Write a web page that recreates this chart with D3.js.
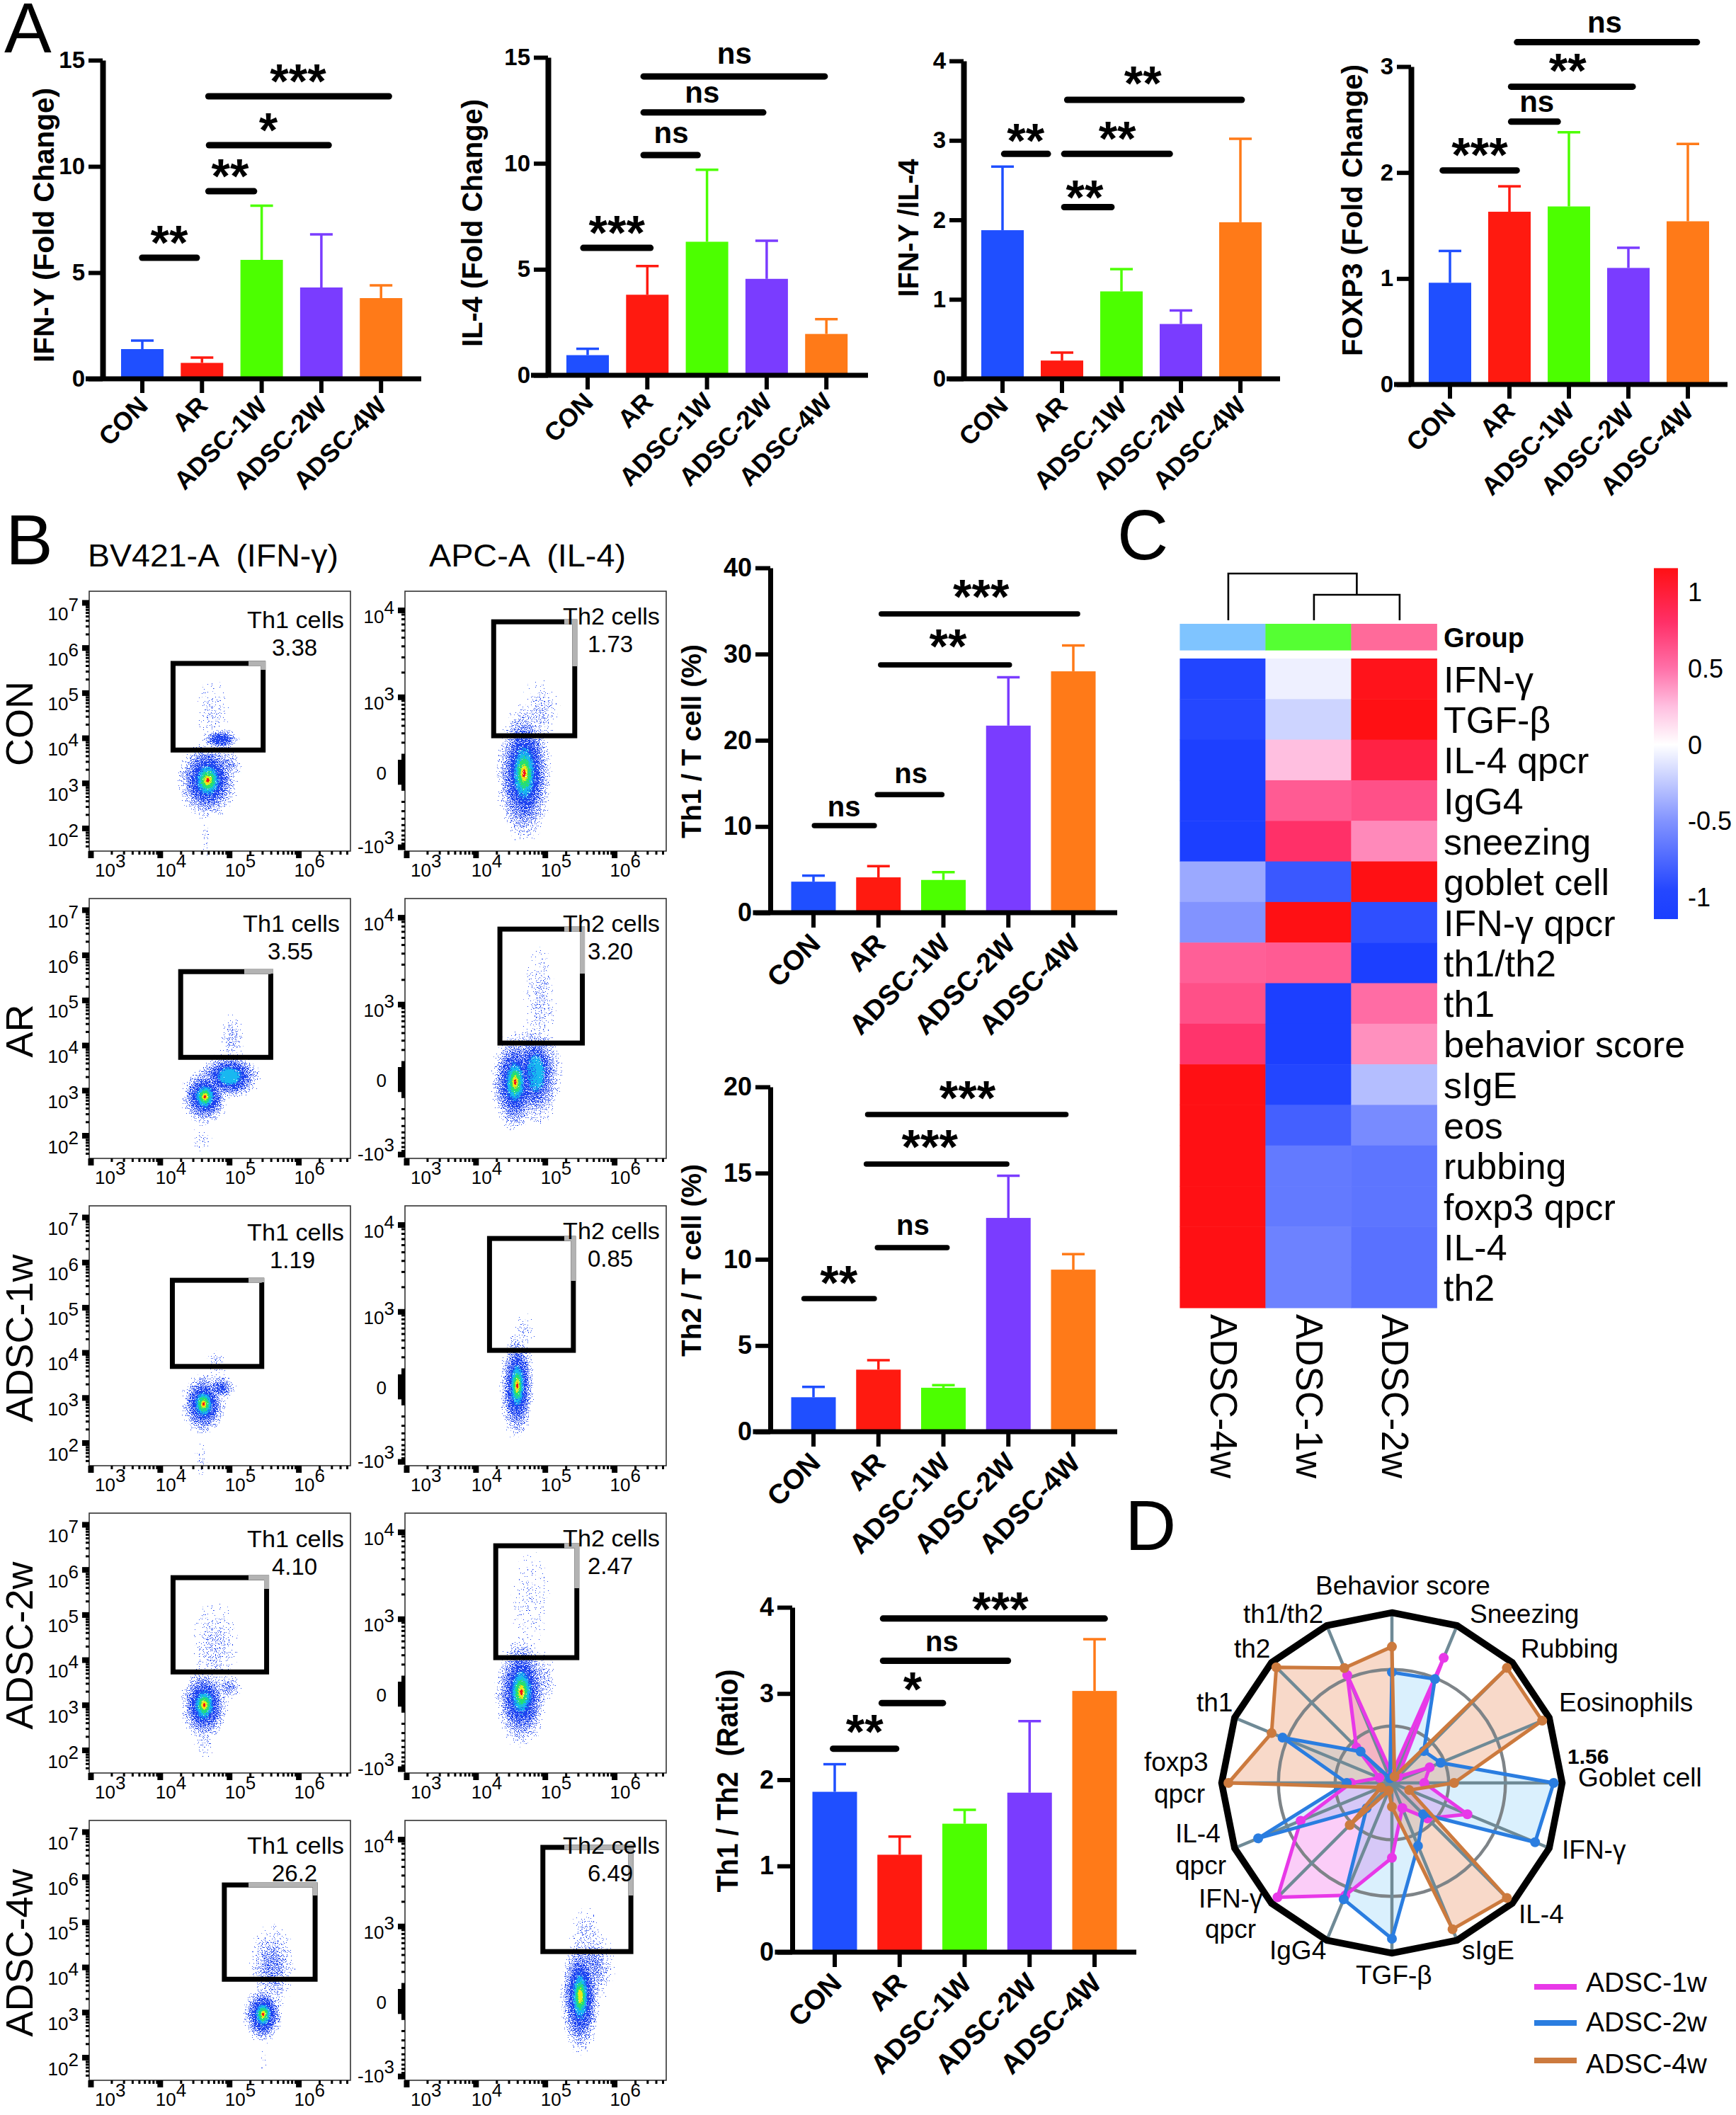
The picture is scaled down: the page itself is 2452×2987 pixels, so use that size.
<!DOCTYPE html>
<html><head><meta charset="utf-8">
<script src="https://cdnjs.cloudflare.com/ajax/libs/d3/7.8.5/d3.min.js"></script>
<style>html,body{margin:0;padding:0;background:#fff}svg{display:block}text{font-family:"Liberation Sans",Arial,sans-serif;white-space:pre}</style>
</head><body><div id="c"></div>
<script>
// ---------- bar-chart data ----------
const groups=["CON","AR","ADSC-1W","ADSC-2W","ADSC-4W"];
const barColors=["#1f4fff","#ff1a10","#4cff00","#7a3cff","#ff7a18"];
const ifnMean=[1.4,0.75,5.6,4.3,3.8],   ifnTop=[1.8,1.0,8.15,6.8,4.4];
const il4Mean=[0.95,3.8,6.3,4.55,1.95], il4Top=[1.25,5.15,9.7,6.35,2.65];
const ratioAMean=[1.87,0.23,1.1,0.69,1.97], ratioATop=[2.67,0.33,1.38,0.86,3.02];
const foxMean=[0.96,1.63,1.68,1.1,1.54], foxTop=[1.26,1.87,2.38,1.29,2.27];
const th1Mean=[3.6,4.1,3.8,21.7,28], th1Top=[4.3,5.4,4.7,27.3,31];
const th2Mean=[2,3.6,2.55,12.4,9.4], th2Top=[2.6,4.15,2.7,14.85,10.3];
const thRatioMean=[1.86,1.13,1.49,1.85,3.03], thRatioTop=[2.18,1.34,1.65,2.68,3.63];
// significance: [from group index, to group index, value, label, label index, label value]
const ifnSig=[[-.05,.96,5.7,"**",.45,6.73],[1.06,1.92,8.83,"**",1.47,9.87],[1.07,3.17,11,"*",2.11,12.03],[1.06,4.18,13.3,"***",2.61,14.33]];
const il4Sig=[[-.12,1.1,6.01,"***",.49,7.05],[.89,1.89,10.39,"ns",1.4,10.96],[.89,2.99,12.4,"ns",1.92,12.86],[.89,4.02,14.1,"ns",2.46,14.7]];
const ratioASig=[[-.02,.81,2.83,"**",.39,3.08],[.99,1.88,2.16,"**",1.38,2.37],[.99,2.86,2.83,"**",1.93,3.11],[1.04,4.07,3.51,"**",2.36,3.8]];
const foxSig=[[-.17,1.17,2.02,"***",.5,2.23],[.98,1.86,2.48,"ns",1.46,2.57],[.98,3.12,2.81,"**",1.98,3.03],[1.08,4.2,3.23,"ns",2.6,3.32]];
const th1Sig=[[-.03,.98,10.1,"ns",.47,11.17],[.94,2.02,13.7,"ns",1.5,15.03],[.99,3.06,28.75,"**",2.07,31.7],[1,4.11,34.66,"***",2.58,37.45]];
const th2Sig=[[-.19,.98,7.72,"**",.39,9.03],[.94,2.1,10.68,"ns",1.53,11.42],[.77,3.02,15.52,"***",1.79,16.92],[.79,3.93,18.4,"***",2.37,19.75]];
const thRatioSig=[[-.07,.99,2.36,"**",.46,2.64],[.68,1.71,2.89,"*",1.2,3.13],[.7,2.71,3.38,"ns",1.65,3.49],[.7,4.2,3.87,"***",2.55,4.06]];

// ---------- flow data ----------
const flowRows=["CON","AR","ADSC-1w","ADSC-2w","ADSC-4w"];
const th1Values=["3.38","3.55","1.19","4.10","26.2"];
const th2Values=["1.73","3.20","0.85","2.47","6.49"];
// gates: [x0,x1,y0,y1]  x = log10 intensity; IFN-γ y = log10 intensity; IL-4 y = raw intensity
const th1Gates=[[4.19,5.49,3.73,5.65],[4.30,5.60,3.73,5.63],[4.18,5.47,3.69,5.60],[4.19,5.54,3.73,5.82],[4.93,6.24,3.73,5.82]];
const th2Gates=[[4.26,5.43,268,7430],[4.35,5.54,268,7430],[4.20,5.41,268,7050],[4.29,5.46,268,7050],[4.97,6.24,446,8150]];
// populations: [x0,x1,y0,y1,density,peak level]
const th1Pops=[
 [[4.58,4.74,1.26,2.26,.2,-1],[4.52,5.02,3.78,5.38,.22,-1],[4.7,5.2,3.0,3.8,.5,-1],[4.57,5.17,3.72,4.22,.85,-1],[4.31,5.07,2.31,3.81,1,4]],
 [[4.46,4.76,1.5,2.3,.2,-1],[4.84,5.24,3.53,4.73,.32,-1],[4.6,5.4,2.86,3.76,1,1],[4.35,4.95,2.31,3.41,1,4]],
 [[4.5,4.7,1.25,2.05,.2,-1],[4.6,5,3.4,4.1,.25,-1],[4.62,5.12,2.92,3.52,.7,-1],[4.35,4.91,2.26,3.46,1,4]],
 [[4.49,4.79,1.76,2.56,.25,-1],[4.45,5.15,3.2,5.4,.3,-1],[4.79,5.19,3.09,3.69,.5,-1],[4.34,4.94,2.3,3.7,1,4]],
 [[5.44,5.54,1.48,2.28,.15,-1],[5.27,5.97,3.02,5.02,.5,-1],[5.24,5.74,2.4,3.5,1,4]]];
const th2Pops=[
 [[4.63,5.23,155,1790,.3,-1],[4.35,5.05,-650,600,1,4]],
 [[4.68,5.18,188,4900,.3,-1],[4.5,5.2,-300,450,.85,1],[4.27,4.87,-400,320,1,4]],
 [[4.5,4.9,268,980,.22,-1],[4.38,4.82,-400,420,1,4]],
 [[4.5,5.1,268,6600,.18,-1],[4.68,5.18,-100,394,.4,-1],[4.33,4.99,-400,450,1,4]],
 [[5.34,5.84,300,1790,.3,-1],[5.33,6.03,-30,982,.5,-1],[5.26,5.76,-400,560,1,3]]];
const densityColors=["#1f45f0","#18b8f0","#26e070","#e8e818","#f01818"];
const densitySpread=[1.2,.5,.33,.18,.08];

// ---------- heatmap data ----------
const heatCols=["ADSC-4w","ADSC-1w","ADSC-2w"];
const heatRows=["IFN-γ","TGF-β","IL-4 qpcr","IgG4","sneezing","goblet cell","IFN-γ qpcr","th1/th2","th1","behavior score","sIgE","eos","rubbing","foxp3 qpcr","IL-4","th2"];
const heatA=[-1.0,-0.95,-1.1,-1.12,-1.12,-0.4,-0.5,0.58,0.65,0.78,1.15,1.15,1.15,1.15,1.15,1.15];
const heatB=[-0.07,-0.2,0.25,0.6,0.8,-0.85,1.15,0.6,-1.12,-1.12,-0.98,-0.8,-0.65,-0.65,-0.6,-0.6];
const heatC=[1.12,1.15,0.95,0.65,0.42,1.15,-0.9,-1.12,0.52,0.4,-0.3,-0.55,-0.68,-0.68,-0.7,-0.7];
const heatColorStops=[-1.15,-0.95,-0.5,0,0.25,0.5,0.8,1.15];
const heatColorValues=["#1a3eff","#2547ff","#8293ff","#ffffff","#ffbfe0","#ff70a8","#ff3068","#ff1014"];
const heatTicks=[1,0.5,0,-0.5,-1];
const annotColors=["#7fc4ff","#55ff33","#ff6a9a"];

// ---------- radar data ----------
const radarAxes=["Behavior score","Sneezing","Rubbing","Eosinophils","Goblet cell","IFN-γ","IL-4","sIgE","TGF-β","IgG4","IFN-γ qpcr","IL-4 qpcr","foxp3 qpcr","th1","th2","th1/th2"];
const radar1w=[.05,.795,.05,.24,.19,.48,.295,.16,.44,.715,.95,.58,.24,.08,.295,.685];
const radar2w=[.65,.66,.265,.31,.95,.91,.26,.40,.915,.74,.21,.85,.265,.695,.26,.03];
const radar4w=[.80,.04,.955,.955,.365,.11,.955,.93,.14,.05,.35,.07,.96,.765,.96,.73];
const radarNames=["ADSC-1w","ADSC-2w","ADSC-4w"];
const radarColors=["#e838e8","#2a7de0","#cc7a3e"];
const radarFills=["rgba(240,70,230,.27)","rgba(70,180,245,.2)","rgba(230,120,60,.28)"];

// ---------- helpers ----------
const svg=d3.select("#c").append("svg").attr("width",2452).attr("height",2987).attr("viewBox","0 0 2452 2987");
const defs=svg.append("defs");
const speck=defs.append("filter").attr("id","speckle").attr("x","-20%").attr("y","-20%").attr("width","140%").attr("height","140%").attr("color-interpolation-filters","sRGB");
speck.append("feTurbulence").attr("type","fractalNoise").attr("baseFrequency","0.83").attr("numOctaves",1).attr("seed",7).attr("result","n");
speck.append("feColorMatrix").attr("in","n").attr("type","matrix").attr("values","0 0 0 0 0 0 0 0 0 0 0 0 0 0 0 2.2 0 0 0 -0.6").attr("result","na");
speck.append("feComposite").attr("in","SourceGraphic").attr("in2","na").attr("operator","arithmetic").attr("k1",0).attr("k2",1).attr("k3",1).attr("k4",-1).attr("result","m0");
const tr=speck.append("feComponentTransfer").attr("in","m0").attr("result","mask");
tr.append("feFuncA").attr("type","linear").attr("slope",30).attr("intercept",0);
speck.append("feColorMatrix").attr("in","SourceGraphic").attr("type","matrix").attr("values","1 0 0 0 0 0 1 0 0 0 0 0 1 0 0 0 0 0 200 0").attr("result","solid");
speck.append("feComposite").attr("in","solid").attr("in2","mask").attr("operator","in");
densityColors.forEach((c,i)=>{
  const g=defs.append("radialGradient").attr("id","dg"+i);
  g.append("stop").attr("offset","0").attr("stop-color",c).attr("stop-opacity",1);
  g.append("stop").attr("offset",i===0?".25":".55").attr("stop-color",c).attr("stop-opacity",1);
  g.append("stop").attr("offset","1").attr("stop-color",c).attr("stop-opacity",0);
});
function T(g,x,y,s,o={}){
  const e=g.append("text").attr("x",x).attr("y",y).text(s).attr("font-size",o.size||36).attr("fill",o.fill||"#000");
  if(o.weight)e.attr("font-weight",o.weight);
  if(o.anchor)e.attr("text-anchor",o.anchor);
  if(o.rotate!==undefined)e.attr("transform",`rotate(${o.rotate} ${x} ${y})`);
  if(o.len)e.attr("textLength",o.len).attr("lengthAdjust","spacingAndGlyphs");
  return e;
}
// ---------- bar panels ----------
function barPanel(p){
  const g=svg.append("g");
  const y=d3.scaleLinear().domain(p.domain).range([p.y0,p.yTop]);
  const step=p.step, x=d3.scaleBand().domain(groups).range([p.c0-step/2,p.c0+step*4.5]).paddingInner(1-p.bw/step).paddingOuter((1-p.bw/step)/2);
  const idx=d3.scaleLinear().domain([0,1]).range([p.c0,p.c0+step]);
  g.selectAll("rect.bar").data(p.mean).join("rect").attr("x",(d,i)=>x(groups[i])).attr("width",x.bandwidth()).attr("y",d=>y(d)).attr("height",d=>p.y0-y(d)).attr("fill",(d,i)=>barColors[i]);
  const cap=p.cap;
  p.top.forEach((t,i)=>{
    const cx=idx(i);
    g.append("line").attr("x1",cx).attr("x2",cx).attr("y1",y(p.mean[i])).attr("y2",y(t)).attr("stroke",barColors[i]).attr("stroke-width",3.5);
    g.append("line").attr("x1",cx-cap).attr("x2",cx+cap).attr("y1",y(t)).attr("y2",y(t)).attr("stroke",barColors[i]).attr("stroke-width",3.5);
  });
  const ay=g.append("g").attr("transform",`translate(${p.ax},0)`).call(d3.axisLeft(y).tickValues(p.ticks).tickSize(p.tick).tickSizeOuter(0).tickPadding(5).tickFormat(d3.format("d")));
  ay.select(".domain").attr("stroke","#000").attr("stroke-width",p.lw);
  ay.selectAll(".tick line").attr("stroke","#000").attr("stroke-width",6);
  ay.selectAll(".tick text").attr("font-size",p.tickFont).attr("font-weight","bold").attr("font-family",'"Liberation Sans"').attr("fill","#000");
  const ax=g.append("g").attr("transform",`translate(0,${p.y0})`).call(d3.axisBottom(x).tickSize(p.tick).tickSizeOuter(0).tickFormat(""));
  ax.select(".domain").remove();
  ax.selectAll(".tick line").attr("stroke","#000").attr("stroke-width",6);
  g.append("line").attr("x1",p.ax-p.lw/2-p.tick).attr("x2",p.xEnd).attr("y1",p.y0).attr("y2",p.y0).attr("stroke","#000").attr("stroke-width",7);
  groups.forEach((s,i)=>{
    const tx=idx(i)+p.lx, ty=p.y0+p.ly;
    g.append("text").attr("transform",`translate(${tx},${ty}) rotate(-45)`).attr("text-anchor","end").attr("font-size",p.xFont).attr("font-weight","bold").text(s);
  });
  p.sig.forEach(s=>{
    g.append("line").attr("x1",idx(s[0])+4).attr("x2",idx(s[1])-4).attr("y1",y(s[2])).attr("y2",y(s[2])).attr("stroke","#000").attr("stroke-width",p.sigW).attr("stroke-linecap","round");
    const ns=s[3]==="ns";
    T(g,idx(s[4]),y(s[5])+(ns?0:33),s[3],{size:ns?p.nsFont:68,weight:"bold",anchor:"middle"});
  });
  T(g,p.lab[0],p.lab[1],p.title,{size:p.labFont,weight:"bold",anchor:"middle",rotate:-90,len:p.lab[2]});
}
const A={tick:20,lw:8,bw:60,cap:16,step:84.3,tickFont:33,xFont:36,lx:10,ly:40,sigW:9,nsFont:42,labFont:40,ticks:null};
const B={tick:21,lw:7,bw:63,cap:16,step:91.75,tickFont:36,xFont:39,lx:12,ly:46,sigW:7.5,nsFont:40,labFont:38};
barPanel({...A,c0:201,ax:145,y0:535,yTop:85,xEnd:595,domain:[0,15],ticks:[0,5,10,15],mean:ifnMean,top:ifnTop,sig:ifnSig,title:"IFN-Y (Fold Change)",lab:[76,318,388]});
barPanel({...A,c0:830,ax:774,y0:530,yTop:81,xEnd:1226,domain:[0,15],ticks:[0,5,10,15],mean:il4Mean,top:il4Top,sig:il4Sig,title:"IL-4 (Fold Change)",lab:[681,315,350]});
barPanel({...A,c0:1416,step:84,ax:1361,y0:535,yTop:86,xEnd:1808,domain:[0,4],ticks:[0,1,2,3,4],mean:ratioAMean,top:ratioATop,sig:ratioASig,title:"IFN-Y /IL-4",lab:[1297,322,195]});
barPanel({...A,c0:2048,step:84,ax:1993,y0:543,yTop:94,xEnd:2440,domain:[0,3],ticks:[0,1,2,3],mean:foxMean,top:foxTop,sig:foxSig,title:"FOXP3 (Fold Change)",lab:[1924,297,412]});
barPanel({...B,c0:1149,ax:1088,y0:1289,yTop:802,xEnd:1578,domain:[0,40],ticks:[0,10,20,30,40],mean:th1Mean,top:th1Top,sig:th1Sig,title:"Th1 / T cell (%)",lab:[990,1047,274]});
barPanel({...B,c0:1149,ax:1088,y0:2022,yTop:1535,xEnd:1578,domain:[0,20],ticks:[0,5,10,15,20],mean:th2Mean,top:th2Top,sig:th2Sig,title:"Th2 / T cell (%)",lab:[990,1780,272]});
barPanel({...B,c0:1179,ax:1119,y0:2757,yTop:2270,xEnd:1605,domain:[0,4],ticks:[0,1,2,3,4],mean:thRatioMean,top:thRatioTop,sig:thRatioSig,title:"Th1 / Th2  (Ratio)",lab:[1042,2515,315],labFont:42,sigW:9});

// ---------- panel letters ----------
[["A",6,74],["B",8,797],["C",1578,790],["D",1589,2189]].forEach(d=>T(svg,d[1],d[2],d[0],{size:100}));
// ---------- flow panels ----------
T(svg,124,800,"BV421-A  (IFN-γ)",{size:44,len:354});
T(svg,606,800,"APC-A  (IL-4)",{size:44,len:278});
const boxW=369,boxH=367,rowTops=[835,1269,1703,2137,2571],colLefts=[126,572];
const labelX=[[225,225],[219,225],[225,225],[225,225],[225,225]];
const labelY=[[52,47],[47,47],[49,47],[48,47],[47,47]];
const valueX=[[260,260],[254,260],[257,260],[260,260],[260,260]];
const minorMult=d3.range(1,10);
const xDec=[3,4,5,6];
function expLabel(g,x,y,base,exp,anchor,size){
  const e=g.append("text").attr("x",x).attr("y",y).attr("font-size",size).attr("text-anchor",anchor);
  e.append("tspan").text(base);
  if(exp!==null)e.append("tspan").attr("dy",-13).text(exp);
  return e;
}
flowRows.forEach((rowName,r)=>{
  T(svg,46,rowTops[r]+187,rowName,{size:54,anchor:"middle",rotate:-90});
  [0,1].forEach(c=>{
    const g=svg.append("g").attr("transform",`translate(${colLefts[c]},${rowTops[r]})`);
    const x=d3.scaleLog().domain([10**2.98,10**6.75]).range([0,boxW]);
    const yS=c===0?d3.scaleLog().domain([10**1.49,10**7.25]).range([boxH,0])
                  :d3.scaleSymlog().constant(185).domain([-1130,16050]).range([boxH,0]);
    const yy=v=>c===0?yS(10**v):yS(v), xx=v=>x(10**v);
    (c===0?th1Pops:th2Pops)[r].forEach(b=>{
      const cx=(xx(b[0])+xx(b[1]))/2,cy=(yy(b[2])+yy(b[3]))/2,rx=Math.abs(xx(b[1])-xx(b[0]))/2,ry=Math.abs(yy(b[3])-yy(b[2]))/2;
      d3.range(0,Math.max(b[5],0)+1).forEach(l=>{
        const k=b[5]<0?1:densitySpread[l];
        g.append("ellipse").attr("cx",cx).attr("cy",cy).attr("rx",rx*k).attr("ry",ry*k)
         .attr("fill",`url(#dg${l})`).attr("fill-opacity",l===0?b[4]:1).attr("filter","url(#speckle)");
      });
    });
    g.append("rect").attr("width",boxW).attr("height",boxH).attr("fill","none").attr("stroke","#333").attr("stroke-width",1.6);
    // x axis
    const xVals=d3.range(3,7).flatMap(k=>minorMult.map(m=>m*10**k)).filter(v=>v<=x.domain()[1]);
    const ax=g.append("g").attr("transform",`translate(0,${boxH})`).call(d3.axisBottom(x).tickValues(xVals).tickSize(10).tickFormat(""));
    ax.select(".domain").remove();
    ax.selectAll(".tick line").attr("stroke","#000").each(function(d){const maj=xDec.some(k=>d===10**k);d3.select(this).attr("stroke-width",maj?8:3).attr("y2",maj?10:5);});
    xDec.forEach(k=>{expLabel(g,x(10**k)+(k===3?6:-6),boxH+36,"10",String(k),"start",26);});
    // y axis
    let yVals,isMaj;
    if(c===0){yVals=d3.range(1,8).flatMap(k=>minorMult.map(m=>m*10**k)).filter(v=>v>=yS.domain()[0]&&v<=yS.domain()[1]);isMaj=v=>[2,3,4,5,6,7].some(k=>v===10**k);}
    else{const pos=[10,20,30,40,50,60,70,80,90,100,200,300,400,500,600,700,800,900,1000,2000,3000,4000,5000,6000,7000,8000,9000,10000];
      yVals=[0,...pos,...pos.filter(v=>v<=1000).map(v=>-v)];isMaj=v=>v===10000||v===1000||v===-1000||Math.abs(v)<=50;}
    const ay=g.append("g").call(d3.axisLeft(yS).tickValues(yVals).tickSize(10).tickFormat(""));
    ay.select(".domain").remove();
    ay.selectAll(".tick line").attr("stroke","#000").each(function(d){const maj=isMaj(d);d3.select(this).attr("stroke-width",maj?8:3).attr("x2",maj?-10:-5);});
    if(c===0){[2,3,4,5,6,7].forEach(k=>expLabel(g,-15,yS(10**k)+25,"10",String(k),"end",26));}
    else{
      expLabel(g,-15,yS(10000)+18,"10","4","end",26);
      expLabel(g,-15,yS(1000)+18,"10","3","end",26);
      expLabel(g,-26,yS(0)+11,"0",null,"end",26);
      expLabel(g,-15,yS(-1000)+9,"-10","3","end",26);
    }
    // gate
    const gt=(c===0?th1Gates:th2Gates)[r];
    const gx0=xx(gt[0]),gx1=xx(gt[1]),gy0=yy(gt[3]),gy1=yy(gt[2]);
    g.append("rect").attr("x",gx0).attr("y",gy0).attr("width",gx1-gx0).attr("height",gy1-gy0).attr("fill","none").attr("stroke","#000").attr("stroke-width",7);
    const lx=labelX[r][c],ly=labelY[r][c],gyCut=ly+59;
    const gl=d3.line();
    if(gy0<gyCut && gx1>lx){
      g.append("path").attr("d",gl([[Math.max(gx0,lx),gy0],[gx1,gy0],[gx1,Math.min(gy1,gyCut)]])).attr("fill","none").attr("stroke","#b3b3b3").attr("stroke-width",7);
    }
    T(g,lx-2,ly,c===0?"Th1 cells":"Th2 cells",{size:34,len:137});
    T(g,valueX[r][c]-2,ly+39,(c===0?th1Values:th2Values)[r],{size:33});
  });
});
// ---------- heatmap ----------
const hx=d3.scaleBand().domain(heatCols).range([1666.4,2029.4]);
const hy=d3.scaleBand().domain(heatRows).range([930,1847]);
const hc=d3.scaleLinear().domain(heatColorStops).range(heatColorValues);
const hg=svg.append("g");
[heatA,heatB,heatC].forEach((vals,ci)=>{
  hg.selectAll(null).data(vals).join("rect").attr("x",hx(heatCols[ci])).attr("width",hx.bandwidth()+.5).attr("y",(d,i)=>hy(heatRows[i])).attr("height",hy.bandwidth()+.5).attr("fill",d=>hc(d));
  hg.append("rect").attr("x",hx(heatCols[ci])).attr("width",hx.bandwidth()+.5).attr("y",881).attr("height",37.6).attr("fill",annotColors[ci]);
  T(hg,hx(heatCols[ci])+hx.bandwidth()/2-17,1856,heatCols[ci],{size:53,rotate:90,len:232});
});
T(hg,2039,914,"Group",{size:38,weight:"bold"});
heatRows.forEach(s=>T(hg,2039,hy(s)+hy.bandwidth()/2+19,s,{size:52}));
const dc=heatCols.map(s=>hx(s)+hx.bandwidth()/2+8);
hg.append("path").attr("d",d3.line()([[dc[0],876],[dc[0],810],[(dc[1]+dc[2])/2,810],[(dc[1]+dc[2])/2,840]])).attr("fill","none").attr("stroke","#000").attr("stroke-width",2.6);
hg.append("path").attr("d",d3.line()([[dc[1],876],[dc[1],840],[dc[2],840],[dc[2],876]])).attr("fill","none").attr("stroke","#000").attr("stroke-width",2.6);
// legend
const ly=d3.scaleLinear().domain([1,-1]).range([836,1267]);
const lg=defs.append("linearGradient").attr("id","hg").attr("x1",0).attr("x2",0).attr("y1",0).attr("y2",1);
[1.156,.8,.5,.25,0,-.5,-.95,-1.144].forEach(v=>lg.append("stop").attr("offset",(ly(v)-ly(1.156))/(ly(-1.144)-ly(1.156))).attr("stop-color",hc(Math.max(-1.15,Math.min(1.15,v)))));
hg.append("rect").attr("x",2336).attr("width",34).attr("y",ly(1.156)).attr("height",ly(-1.144)-ly(1.156)).attr("fill","url(#hg)");
heatTicks.forEach(v=>T(hg,2384,ly(v)+13,String(v),{size:36}));
// ---------- radar ----------
const cx=1966,cy=2518,R=240.5;
const rg=svg.append("g").attr("transform",`translate(${cx},${cy})`);
const rr=d3.scaleLinear().domain([0,1]).range([0,R]);
const ang=d3.scaleLinear().domain([0,radarAxes.length]).range([0,2*Math.PI]);
const rl=d3.lineRadial().angle((d,i)=>ang(i)).radius(d=>rr(d)).curve(d3.curveLinearClosed);
const radarSeries=[radar1w,radar2w,radar4w];
radarSeries.forEach((vals,s)=>rg.append("path").attr("d",rl(vals)).attr("fill",radarFills[s]));
[1/3,2/3].forEach(f=>rg.append("circle").attr("r",rr(f)).attr("fill","none").attr("stroke","#7e8488").attr("stroke-width",4.5));
radarAxes.forEach((a,i)=>rg.append("line").attr("x2",rr(1)*Math.sin(ang(i))).attr("y2",-rr(1)*Math.cos(ang(i))).attr("stroke","#6f8a96").attr("stroke-width",4.5));
rg.append("path").attr("d",rl(radarAxes.map(()=>1))).attr("fill","none").attr("stroke","#000").attr("stroke-width",9.5);
radarSeries.forEach((vals,s)=>{
  rg.append("path").attr("d",rl(vals)).attr("fill","none").attr("stroke",radarColors[s]).attr("stroke-width",5).attr("stroke-linejoin","round");
  rg.selectAll(null).data(vals).join("circle").attr("r",7).attr("cx",(d,i)=>rr(d)*Math.sin(ang(i))).attr("cy",(d,i)=>-rr(d)*Math.cos(ang(i))).attr("fill",radarColors[s]);
});
const radarLabelPos=[[1858,2252],[2076,2292],[2148,2341],[2202,2417],[2229,2523],[2206,2625],[2145,2716],[2065,2767],[1915,2802],[1793,2767],[1693,2694,1702,2737],[1660,2602,1660,2647],[1616,2501,1630,2546],[1690,2417],[1743,2341],[1756,2292]];
radarAxes.forEach((a,i)=>{
  const p=radarLabelPos[i];
  if(p.length===2)T(svg,p[0],p[1],a,{size:37});
  else{const parts=a.split(" ");T(svg,p[0],p[1],parts[0],{size:37});T(svg,p[2],p[3],parts[1],{size:37});}
});
T(svg,2214,2491,"1.56",{size:30,weight:"bold"});
const legendY=[2806,2857,2910],legendText=[2813,2869,2928];
radarNames.forEach((n,i)=>{
  svg.append("line").attr("x1",2167).attr("x2",2227).attr("y1",legendY[i]).attr("y2",legendY[i]).attr("stroke",radarColors[i]).attr("stroke-width",8);
  T(svg,2240,legendText[i],n,{size:38,len:171});
});
</script></body></html>
